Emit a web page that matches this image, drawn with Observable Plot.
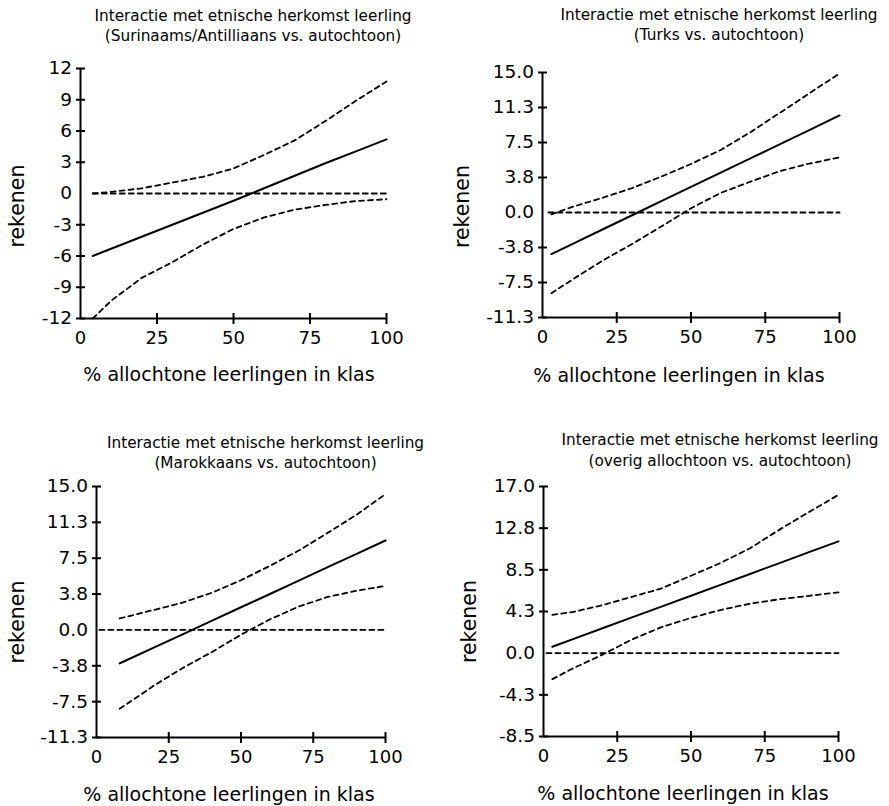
<!DOCTYPE html>
<html>
<head>
<meta charset="utf-8">
<script src="https://cdn.jsdelivr.net/npm/d3@7"></script>
<script src="https://cdn.jsdelivr.net/npm/@observablehq/plot@0.6"></script>
<style>
  html, body { margin: 0; padding: 0; background: #fff; }
  #wrap { position: relative; width: 889px; height: 806px; overflow: hidden; background: #fff; }
  #wrap > div { position: absolute; }
  #wrap svg { display: block; }
</style>
</head>
<body>
<div id="wrap"></div>
<script>
// ---------- shared labels / ticks ----------
const titleLine1 = "Interactie met etnische herkomst leerling";
const xLabel = "% allochtone leerlingen in klas";
const yLabel = "rekenen";
const xTicks = [0, 25, 50, 75, 100];
const xTickLabels = ["0", "25", "50", "75", "100"];
const xTickMarks = [25, 50, 75, 100];

// ---------- panel 1: Surinaams/Antilliaans ----------
const subtitle1 = "(Surinaams/Antilliaans vs. autochtoon)";
const x1 = [4, 10, 20, 30, 40, 50, 60, 70, 80, 90, 100];
const pred1 = [-6.0, -5.3, -4.15, -3.0, -1.85, -0.7, 0.5, 1.7, 2.9, 4.05, 5.2];
const lo1 = [-12.0, -10.3, -8.1, -6.6, -4.9, -3.4, -2.3, -1.55, -1.1, -0.72, -0.55];
const hi1 = [0.0, 0.15, 0.5, 1.05, 1.6, 2.4, 3.7, 5.1, 6.95, 8.9, 10.75];
const zeroX1 = [4, 100];
const yDomain1 = [-12, 12];
const yTicks1 = [-12, -9, -6, -3, 0, 3, 6, 9, 12];
const yTickLabels1 = ["-12", "-9", "-6", "-3", "0", "3", "6", "9", "12"];

// ---------- panel 2: Turks ----------
const subtitle2 = "(Turks vs. autochtoon)";
const x2 = [3, 10, 20, 30, 40, 50, 60, 70, 80, 90, 100];
const pred2 = [-4.45, -3.38, -1.85, -0.32, 1.21, 2.74, 4.27, 5.8, 7.33, 8.86, 10.4];
const lo2 = [-8.65, -7.2, -5.2, -3.4, -1.5, 0.45, 2.1, 3.3, 4.45, 5.25, 5.9];
const hi2 = [-0.2, 0.6, 1.55, 2.6, 3.85, 5.2, 6.7, 8.6, 10.7, 12.8, 14.9];
const zeroX2 = [2, 100];
const yDomain2 = [-11.25, 15];
const yTicks2 = [-11.25, -7.5, -3.75, 0, 3.75, 7.5, 11.25, 15];
const yTickLabels2 = ["-11.3", "-7.5", "-3.8", "0.0", "3.8", "7.5", "11.3", "15.0"];

// ---------- panel 3: Marokkaans ----------
const subtitle3 = "(Marokkaans vs. autochtoon)";
const x3 = [8, 10, 20, 30, 40, 50, 60, 70, 80, 90, 100];
const pred3 = [-3.5, -3.22, -1.82, -0.43, 0.97, 2.37, 3.76, 5.16, 6.56, 7.95, 9.35];
const lo3 = [-8.25, -7.85, -5.8, -3.95, -2.3, -0.5, 1.1, 2.45, 3.45, 4.1, 4.6];
const hi3 = [1.2, 1.35, 2.1, 2.88, 3.9, 5.2, 6.7, 8.3, 10.15, 12.05, 14.2];
const zeroX3 = [1, 100];
const yDomain3 = [-11.25, 15];
const yTicks3 = [-11.25, -7.5, -3.75, 0, 3.75, 7.5, 11.25, 15];
const yTickLabels3 = ["-11.3", "-7.5", "-3.8", "0.0", "3.8", "7.5", "11.3", "15.0"];

// ---------- panel 4: overig allochtoon ----------
const subtitle4 = "(overig allochtoon vs. autochtoon)";
const x4 = [3, 10, 20, 30, 40, 50, 60, 70, 80, 90, 100];
const pred4 = [0.65, 1.43, 2.54, 3.65, 4.75, 5.86, 6.97, 8.08, 9.19, 10.3, 11.4];
const lo4 = [-2.65, -1.55, -0.15, 1.4, 2.65, 3.6, 4.4, 5.05, 5.5, 5.85, 6.2];
const hi4 = [3.9, 4.2, 4.9, 5.75, 6.6, 7.9, 9.2, 10.7, 12.6, 14.4, 16.15];
const zeroX4 = [1, 100];
const yDomain4 = [-8.5, 17];
const yTicks4 = [-8.5, -4.25, 0, 4.25, 8.5, 12.75, 17];
const yTickLabels4 = ["-8.5", "-4.3", "0.0", "4.3", "8.5", "12.8", "17.0"];

// ---------- layout (positions / sizes only) ----------
const layouts = [
  {left: 0,   top: 0,   width: 444, height: 400, mL: 80, mR: 58, mT: 68, mB: 82,
   tDx: 19.5, tDy: -27.5, xlDx: -4.5, xlDy: 62, ylDx: -63.5, ylDy: 12.5},
  {left: 444, top: 0,   width: 445, height: 400, mL: 98, mR: 50, mT: 72, mB: 83,
   tDx: 28, tDy: -32.5, xlDx: -12, xlDy: 64, ylDx: -80.5, ylDy: 11.5},
  {left: 0,   top: 400, width: 444, height: 406, mL: 96, mR: 59, mT: 86, mB: 69,
   tDx: 24.5, tDy: -18.7, xlDx: -12, xlDy: 63.5, ylDx: -79.5, ylDy: 10},
  {left: 444, top: 400, width: 445, height: 406, mL: 99, mR: 51, mT: 86, mB: 70,
   tDx: 29, tDy: -21, xlDx: -8, xlDy: 63.5, ylDx: -74.5, ylDy: 10}
];
const yTickHalf = 4.5;   // px: y tick marks cross the axis
const xTickHalf = 5.5;   // px: x tick marks cross the axis

const panels = [
  {sub: subtitle1, x: x1, pred: pred1, lo: lo1, hi: hi1, zeroX: zeroX1, yDomain: yDomain1, yTicks: yTicks1, yTickLabels: yTickLabels1},
  {sub: subtitle2, x: x2, pred: pred2, lo: lo2, hi: hi2, zeroX: zeroX2, yDomain: yDomain2, yTicks: yTicks2, yTickLabels: yTickLabels2},
  {sub: subtitle3, x: x3, pred: pred3, lo: lo3, hi: hi3, zeroX: zeroX3, yDomain: yDomain3, yTicks: yTicks3, yTickLabels: yTickLabels3},
  {sub: subtitle4, x: x4, pred: pred4, lo: lo4, hi: hi4, zeroX: zeroX4, yDomain: yDomain4, yTicks: yTicks4, yTickLabels: yTickLabels4}
];

function makePanel(d, L) {
  const rows = [];
  d.x.forEach((xv, i) => {
    rows.push({pct: xv, val: d.pred[i], s: "pred"});
    rows.push({pct: xv, val: d.lo[i], s: "lo"});
    rows.push({pct: xv, val: d.hi[i], s: "hi"});
  });
  const zeroRows = d.zeroX.map(xv => ({pct: xv, val: 0}));
  const yMin = d.yDomain[0];
  // tick half-lengths converted from px into data units of each scale
  const kx = yTickHalf * 100 / (L.width - L.mL - L.mR);
  const ky = xTickHalf * (d.yDomain[1] - d.yDomain[0]) / (L.height - L.mT - L.mB);
  const yTickRows = d.yTicks.filter(v => v !== 0).map(v => ({v, a: -kx, b: kx}));
  const xTickRows = xTickMarks.map(v => ({v, a: yMin - ky, b: yMin + ky}));
  const dash = "5,4";
  return Plot.plot({
    width: L.width, height: L.height,
    marginLeft: L.mL, marginRight: L.mR, marginTop: L.mT, marginBottom: L.mB,
    x: {domain: [0, 100], label: null},
    y: {domain: d.yDomain, label: null},
    style: {fontFamily: '"DejaVu Sans", sans-serif', background: "white", color: "black", overflow: "visible"},
    marks: [
      Plot.ruleX([0], {stroke: "black", strokeWidth: 2}),
      Plot.ruleY([yMin], {stroke: "black", strokeWidth: 2}),
      Plot.link(yTickRows, {x1: "a", x2: "b", y1: "v", y2: "v", stroke: "black", strokeWidth: 2}),
      Plot.link(xTickRows, {x1: "v", x2: "v", y1: "a", y2: "b", stroke: "black", strokeWidth: 2}),
      Plot.axisY({ticks: d.yTicks, tickSize: 0, tickPadding: 8.5, fontSize: 18.5, label: null,
                  tickFormat: v => d.yTickLabels[d.yTicks.indexOf(v)]}),
      Plot.axisX({ticks: xTicks, tickSize: 0, tickPadding: 12.5, fontSize: 18, label: null,
                  tickFormat: v => xTickLabels[xTicks.indexOf(v)]}),
      Plot.line(zeroRows, {x: "pct", y: "val", stroke: "black", strokeWidth: 1.8, strokeDasharray: dash}),
      Plot.line(rows.filter(r => r.s !== "pred"), {x: "pct", y: "val", z: "s", stroke: "black", strokeWidth: 1.8, strokeDasharray: dash}),
      Plot.line(rows.filter(r => r.s === "pred"), {x: "pct", y: "val", stroke: "black", strokeWidth: 2}),
      Plot.text([titleLine1 + "\n" + d.sub], {frameAnchor: "top", textAnchor: "middle", dx: L.tDx, dy: L.tDy, lineAnchor: "bottom", lineHeight: 1.31, fontSize: 15.3}),
      Plot.text([xLabel], {frameAnchor: "bottom", textAnchor: "middle", dx: L.xlDx, dy: L.xlDy, lineAnchor: "bottom", fontSize: 19}),
      Plot.text([yLabel], {frameAnchor: "left", textAnchor: "middle", dx: L.ylDx, dy: L.ylDy, rotate: -90, fontSize: 20.5})
    ]
  });
}

const wrap = document.getElementById("wrap");
panels.forEach((d, i) => {
  const L = layouts[i];
  const holder = document.createElement("div");
  holder.style.left = L.left + "px";
  holder.style.top = L.top + "px";
  holder.style.width = L.width + "px";
  holder.style.height = L.height + "px";
  holder.appendChild(makePanel(d, L));
  wrap.appendChild(holder);
});
</script>
</body>
</html>
